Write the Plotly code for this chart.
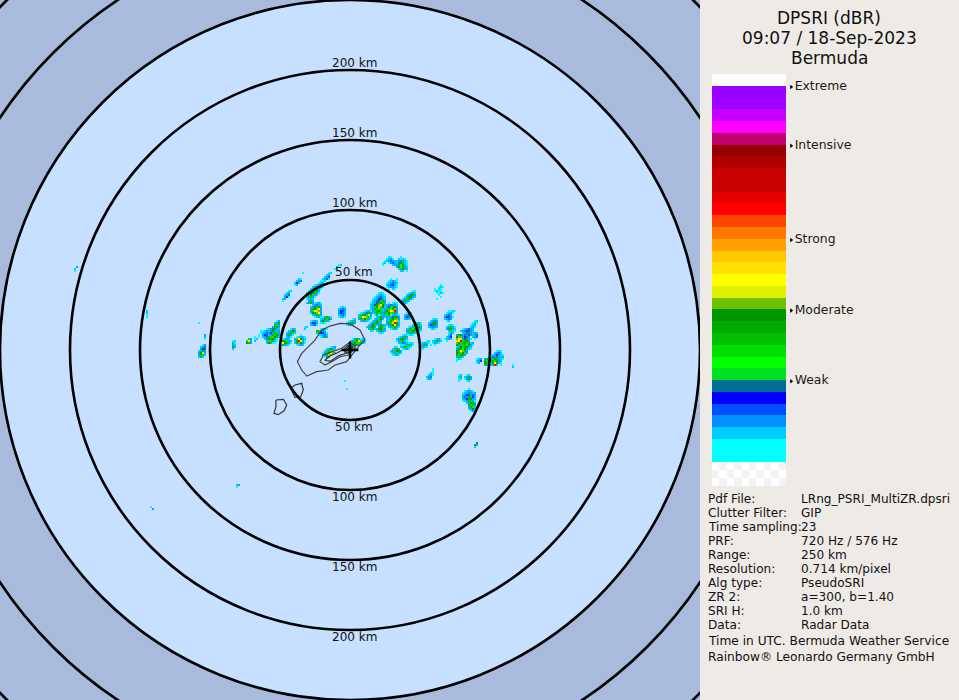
import numpy as np
import plotly.graph_objects as go

# radar picture: 500 km across, one bin is two image pixels
bin_km = 0.714 * 2
ring_km = [50, 100, 150, 200, 250, 300, 350]
ring_labels = [50, 100, 150, 200]

level_keys = "csbndtglmfoyur"
level_colors = ["#00ffff", "#00ccff", "#00a8ff", "#0070ff", "#0030ff", "#006e96", "#00e020",
                "#00ff00", "#00c000", "#00a000", "#70c000", "#ffff00", "#ffc800", "#ff0000"]

# echoes, each patch is east bin, north bin of its first cell and rows of levels
blob_east = [16, 18, 10, 16, 18, 8, 4, 25, 27, 28, 23, 20, 35, 39, 46, 47, 53, 63, 67, 38, 54, 57, 56,
             42, 81, 62, -57, -100, -138, -102, -1, -14, -22, -28, -20, -15, -6, -20, -34, -46, -52, -59,
             -76, -73, -70, -76, -34, -32, -28, -16, -2, -8, -14, -24, -3, -2, -23, -17]
blob_north = [47, 36, 29, 24, 18, 18, 20, 30, 19, 14, 8, 4, 6, 16, 20, 13, 15, -4, 0, -9, -12, -12, -19,
              33, -7, -46, -67, -78, 42, 20, 6, 2, 35, 36, 24, 17, 22, 15, 30, 15, 7, 5,
              3, 8, 8, 14, 6, 11, 8, 11, 16, 43, 39, 39, -15, -19, 12, 10]
blob_rows = [
    ["...cc....c....", "..csbc..scsc..", ".csbnbssbnbsc.", "cs.cbnbsnfmsc.", "c....sbbmlfbc.",
     ".......bflmbs.", "........sbfbs.", ".........ss.c."],
    ["..c..c", ".csbsc", "csbnbs", "sbndbc", "csbbsc", ".c.sc."],
    ["....csc.", "...csbsc", "..csbnbs", ".csbdtbs", ".sbntgmb", "csbtmfgb", "sbtfoyfb", "sbgfuofb",
     "sbmgogmn", ".bgmfgmb", ".sbmgmbs", "..cbsbc."],
    ["...c.csc", "..sbnbbs", ".sbtgmfb", "sbmglfob", "sbfoyurb", "bmgfogmb", "sbgmfgbs", ".sbnmgbc", "..cbsc.."],
    ["..csbsc", ".sbtmfb", "sbmfgob", "bgfoyus", "bmgurfs", "sbmfymb", ".sbgmbc", "..csbs."],
    ["......csb.", ".....sbmb.", "....sbgfs.", "...sbmgb..", "..sbmfbs..", ".sbfgsbmbs", "sbmfb.bfgs",
     ".bgmsbmfgb", "..sc.sbmbs", "......csc."],
    ["...csbc", ".csbtmb", "sbmfgyb", "bgyuogs", "bmofgbc", ".sbbsc."],
    ["......cc", "....csbs", "...sbtmb", "..cbmfbs", ".sbgmbc.", "sbmbs...", "csbc....", ".c......"],
    [".csc", "sbnb", "bdns", "sbsc"],
    ["....csbc", "...sbfbs", ".csbmlfb", "sbmlfmgb", "bmgfmgsc", "sbmbsbc.", ".csc...."],
    ["...csc", ".csbmb", "sbmfbs", "cbgmsc", ".sbnbs", "..cbsc"],
    [".........csc", "......csbmbc", "..sc.sbmgsc.", ".sbmb.csbc..", "sbofmb......", "csbgbs......", ".csbc......."],
    [".......csbc", "...cs.sbfbs", "csbsc.cbsc.", "sbmb.c.c...", "cbsc.......", ".c........."],
    ["..csc", ".sbnb", "sbmfb", "bdnmb", "sbnbs", ".csc."],
    ["...ccsc", "..csbc.", ".sbnb..", ".bdtbc.", ".sbnb..", "..cs..."],
    ["..csc.", ".sbmbc", ".bmfbs", "..sgsc", "..cbs.", "..sn..", ".sbd..", "csbs..", ".c...."],
    [".........cs", "........csc", ".......csb.", ".......sbc.", "...csbnbs..", "..sbndtbs..", "...sbtmbsbs",
     "bmfbnbdbsbn", "fgobdnb.sbn", "oyubtmbc.c.", "uyrgmfb....", "ofgmfgmsb..", "fmbgmlfbc..", "sbfgmfbs...",
     "bfmlfbsc...", "fgyomb.....", "fmofgb.....", "mgfmb......", "bmbs.......", "csc........", "c.........."],
    ["csb", "sbd", "cb."],
    ["......csc.", ".....sbns.", "...csbdbsc", "..sbnbnbsb", "bm.bgfmbsc", "mgbmfgfbs.", "fmbsfymbc.", "mb.sbrb.c."],
    ["...c", "...c", "..sc", ".sbc", "sbn.", "cbs."],
    ["cs", "sb", "cs", "c."],
    [".cs.", "sbmb", "cbmb", ".cs."],
    ["...c...", ".csbsc.", "csbnbsb", "sbdtbnb", "bnbmbds", "sbdmfbs", "csbmgbc", "..sbfmb", "...mgmb",
     "...bmos", "...sbfb", "....cbs"],
    ["...c.", "..csc", "c.sc.", "cscc.", ".ccsc", "..c..", "...c.", ".c..."],
    ["c", "s"],
    [".f", "mb", "s."],
    ["sb", "c."],
    ["c.", ".b"],
    [".b", "s.", "c."],
    ["s", "s", "c", "c"],
    ["..cbmbcsc", ".sbgfyobs", "sbmfogmbc", ".cbmfb...", "..cs....."],
    ["....csb", "..sbfbs", ".sbmog.", "cbgfyob", "sbmuo..", ".cbm..."],
    [".......cc", "......csb", "....csbns", "...sbnbsc", "..sbmbsc.", ".sbtgfb..", "sbtfmbc..", "bgfgbs...",
     "sbmbc....", "csbs.....", ".bmb.....", "sbmbc...."],
    ["..sc", ".sbn", "sdb.", "cs.."],
    ["..csbc", ".sbnbs", "sbtgfb", "bmfoyb", "bgyuob", "sfmoyb", ".sbmgb", "..csbc"],
    [".cbmbc", "sbmgfb", "bfgbs.", "csc..."],
    [".csc", "sbnb", "bdtb", "bdnb", "sbns", "csbc"],
    ["csbs", "bdtb", "sbnc"],
    ["...cs", "..sb.", ".sbn.", ".bdc.", "sb...", "c...."],
    [".........cb", "........sbf", "........mgb", ".......bmfb", "....csbnfbs", ".ccsbsmfbsb", ".csbnbdbmgb",
     "c.bdnsbmgfb", "..sbnmgofms", "...sbfmfbc.", "....gogmsc.", "....sfbcc.."],
    ["....c.c", ".gb.cs.", "gyb.s..", "fmb...."],
    ["cs", "bc", "bs", "mb", "s."],
    ["..cb", ".sbn", ".bdt", "sbmb", "bfyb", "bmgs", "sbs."],
    ["b", "s", "c"],
    ["b", "s", "c"],
    ["c"],
    ["csbs.", "fmgbs", "yfmbc", "mbsc."],
    ["..cbs", ".sbfb", "sbmgs", "bmbc.", "sbc.."],
    ["...c..", ".csbsc", "bgyfbs", "sfrybc", "smofbc", ".csbs."],
    [".csbc", "sbns.", "bdtbc", "csbns", ".cbmb"],
    ["...cs", ".csbb", "sbmfb", "cbgb."],
    ["..cs", ".sc.", "cs.."],
    ["...cs", "..sb", ".sbn", "sbnc", "cs.."],
    ["c"],
    ["c"],
    ["c"],
    ["cs", "s."],
    ["mg", "gb"],
]

# coast and reef lines, km from the radar
outer_x = [10.7, 7.1, 0, -7.1, -14.3, -20.2, -25, -28.6, -34.5, -37.6, -34.5, -30.9, -23.8, -15.5, -10.7, -2.4, 1.2, 7.1, 10.7]
outer_y = [7.1, 14.3, 18.6, 19, 17.1, 14.3, 7.1, 3.6, -2.4, -8.3, -14.3, -18.6, -15.5, -14.3, -10.7, -8.3, -3.6, 3.6, 7.1]
inner_x = [3.6, -1.2, -5.9, -13.1, -19, -21.4, -17.9, -13.1, -7.1, -1.2, 3.6, 3.6]
inner_y = [3.6, 4.8, 1.2, -1.2, -3.6, -8.3, -10.7, -8.3, -4.8, -3.6, 1.2, 3.6]
island_x = [2.5, -1.5, -4.5, -10, -15, -18, -14, -8, -3, 0, 2.5, 1, -2, -4, -1, 1.5, -1, -3.5, 2.5]
island_y = [2.5, 3.5, 0.5, -2.5, -4.5, -7.5, -8, -4, -2.5, -2, 0.5, 3, 1, -1.5, -1.5, 1.5, 2.5, 0, 2.5]
reef1_x = [-39.3, -34.5, -33.4, -35.2, -39.3, -41.6, -42.4, -39.3]
reef1_y = [-25, -23.8, -28.6, -33.4, -33.8, -29.8, -27.4, -25]
reef2_x = [-52.9, -47.6, -45.2, -47.1, -51.2, -54.3, -52.9, -52.9]
reef2_y = [-35.7, -35.2, -39.3, -43.4, -46.2, -45.2, -40.5, -35.7]

# colour bar from top to bottom, two more bands below it hold the checker
band_colors = ["#ffffff", "#9900ff", "#a000ff", "#c800ff", "#ff00ff", "#c0006e", "#960000", "#b00000",
               "#c80000", "#c80000", "#e60000", "#ff0000", "#ff4600", "#ff7800", "#ffa000", "#ffc800",
               "#ffe000", "#ffff00", "#e0f000", "#70c000", "#009600", "#00aa00", "#00c000", "#00e000",
               "#00ff00", "#00e020", "#006e96", "#0000ff", "#0050ff", "#0090ff", "#00ccff", "#00ffff",
               "#00ffff"]
scale_names = ["Extreme", "Intensive", "Strong", "Moderate", "Weak"]
scale_at = [0.6, 5.6, 13.6, 19.6, 25.6]
checker_z = [[0, 1, 0, 1, 0, 1, 0, 1, 0, 1], [1, 0, 1, 0, 1, 0, 1, 0, 1, 0], [0, 1, 0, 1, 0, 1, 0, 1, 0, 1]]
checker_y = [32.83, 33.5, 34.17]

title_lines = ["DPSRI (dBR)", "09:07 / 18-Sep-2023", "Bermuda"]
info_names = ["Pdf File:", "Clutter Filter:", "Time sampling:", "PRF:", "Range:", "Resolution:",
              "Alg type:", "ZR 2:", "SRI H:", "Data:"]
info_values = ["LRng_PSRI_MultiZR.dpsri", "GIP", "23", "720 Hz / 576 Hz", "250 km", "0.714 km/pixel",
               "PseudoSRI", "a=300, b=1.40", "1.0 km", "Radar Data"]
footer_lines = ["Time in UTC. Bermuda Weather Service", "Rainbow® Leonardo Germany GmbH"]

FONT = "DejaVu Sans"
W, H = 959, 700
MAP_SIDE = 700

# lay the patches into one grid
east_lo = min(blob_east)
east_hi = max(e + max(len(r) for r in rows) for e, rows in zip(blob_east, blob_rows))
north_hi = max(blob_north)
north_lo = min(n - len(rows) for n, rows in zip(blob_north, blob_rows))
grid = np.full((north_hi - north_lo + 1, east_hi - east_lo + 1), np.nan)
for e, n, rows in zip(blob_east, blob_north, blob_rows):
    for i, row in enumerate(rows):
        for j, ch in enumerate(row):
            if ch != ".":
                grid[n - i - north_lo, e + j - east_lo] = level_keys.index(ch)

steps = []
for k, c in enumerate(level_colors):
    steps += [[k / len(level_colors), c], [(k + 1) / len(level_colors), c]]

fig = go.Figure()
fig.add_trace(go.Heatmap(
    x=(np.arange(east_lo, east_hi + 1) + 0.5) * bin_km,
    y=(np.arange(north_lo, north_hi + 1) - 0.5) * bin_km,
    z=grid, colorscale=steps, zmin=-0.5, zmax=len(level_colors) - 0.5,
    showscale=False, hoverinfo="skip"))

for xs, ys, col, w in [(outer_x, outer_y, "#444444", 1.2), (inner_x, inner_y, "#444444", 1.2),
                       (island_x, island_y, "#333333", 1.2), (reef1_x, reef1_y, "#333333", 1.2),
                       (reef2_x, reef2_y, "#333333", 1.2)]:
    fig.add_trace(go.Scatter(x=xs, y=ys, mode="lines", line=dict(color=col, width=w),
                             hoverinfo="skip", showlegend=False))
fig.add_trace(go.Scatter(x=[0], y=[0], mode="markers", hoverinfo="skip", showlegend=False,
                         marker=dict(symbol="cross-thin", size=12, line=dict(color="black", width=2.4))))

# the colour bar on its own axes, x runs 0 to 1 across the bar and on to the labels
fig.add_trace(go.Bar(y=list(range(len(band_colors))), x=[1] * len(band_colors), orientation="h", width=1,
                     marker=dict(color=band_colors, line=dict(width=0)), xaxis="x2", yaxis="y2",
                     hoverinfo="skip", showlegend=False))
fig.add_trace(go.Heatmap(x=[i / 10 + 0.05 for i in range(10)], y=checker_y,
                         z=checker_z, colorscale=[[0, "#ffffff"], [1, "#f3f3f3"]], showscale=False,
                         xaxis="x2", yaxis="y2", hoverinfo="skip"))
fig.add_trace(go.Scatter(x=[1.07] * len(scale_at), y=scale_at, mode="markers+text", text=scale_names,
                         textposition="middle right",
                         textfont=dict(family=FONT, size=12.4, color="#1a1a1a"),
                         marker=dict(symbol="triangle-right", size=4, color="black"),
                         xaxis="x2", yaxis="y2", hoverinfo="skip", showlegend=False))

shapes = [dict(type="rect", xref="x", yref="y", x0=-250, x1=250, y0=-250, y1=250,
               fillcolor="#a9bbdd", line=dict(width=0), layer="below"),
          dict(type="circle", xref="x", yref="y", x0=-250, x1=250, y0=-250, y1=250,
               fillcolor="#c8e0ff", line=dict(width=0), layer="below")]
for r in ring_km:
    shapes.append(dict(type="circle", xref="x", yref="y", x0=-r, x1=r, y0=-r, y1=r,
                       line=dict(color="black", width=2.6), layer="above"))

annotations = []
def note(text, px, py, size=12.1, anchor="left"):
    annotations.append(dict(text=text, x=px / W, y=1 - py / H, xref="paper", yref="paper", showarrow=False,
                            xanchor=anchor, yanchor="middle", font=dict(family=FONT, size=size, color="#111111")))

for r in ring_labels:
    note(f"{r} km", 354, 350 - r * 1.4 - 7.5, size=12, anchor="center")
    note(f"{r} km", 354, 350 + r * 1.4 + 7, size=12, anchor="center")
for i, t in enumerate(title_lines):
    note(t, 829, 18 + i * 20, size=17, anchor="center")
for i, (a, b) in enumerate(zip(info_names, info_values)):
    note(a, 706, 498.5 + i * 14)
    note(b, 799, 498.5 + i * 14)
for i, t in enumerate(footer_lines):
    note(t, 705.5, 640.5 + i * 16, size=12.2)

fig.update_layout(
    width=W, height=H, margin=dict(l=0, r=0, t=0, b=0), autosize=False,
    paper_bgcolor="#eeebe6", plot_bgcolor="rgba(0,0,0,0)", shapes=shapes, annotations=annotations,
    xaxis=dict(domain=[0, MAP_SIDE / W], range=[-250, 250], visible=False),
    yaxis=dict(domain=[0, 1], range=[-250, 250], visible=False),
    xaxis2=dict(domain=[712 / W, (712 + 222) / W], range=[0, 3], visible=False, anchor="y2"),
    yaxis2=dict(domain=[1 - 486 / H, 1 - 74 / H], range=[34.5, -0.5], visible=False, anchor="x2"),
    bargap=0,
)
fig.write_html("out.html", config={"displayModeBar": False},
               post_script="document.body.style.margin='0';document.body.style.overflow='hidden';")
